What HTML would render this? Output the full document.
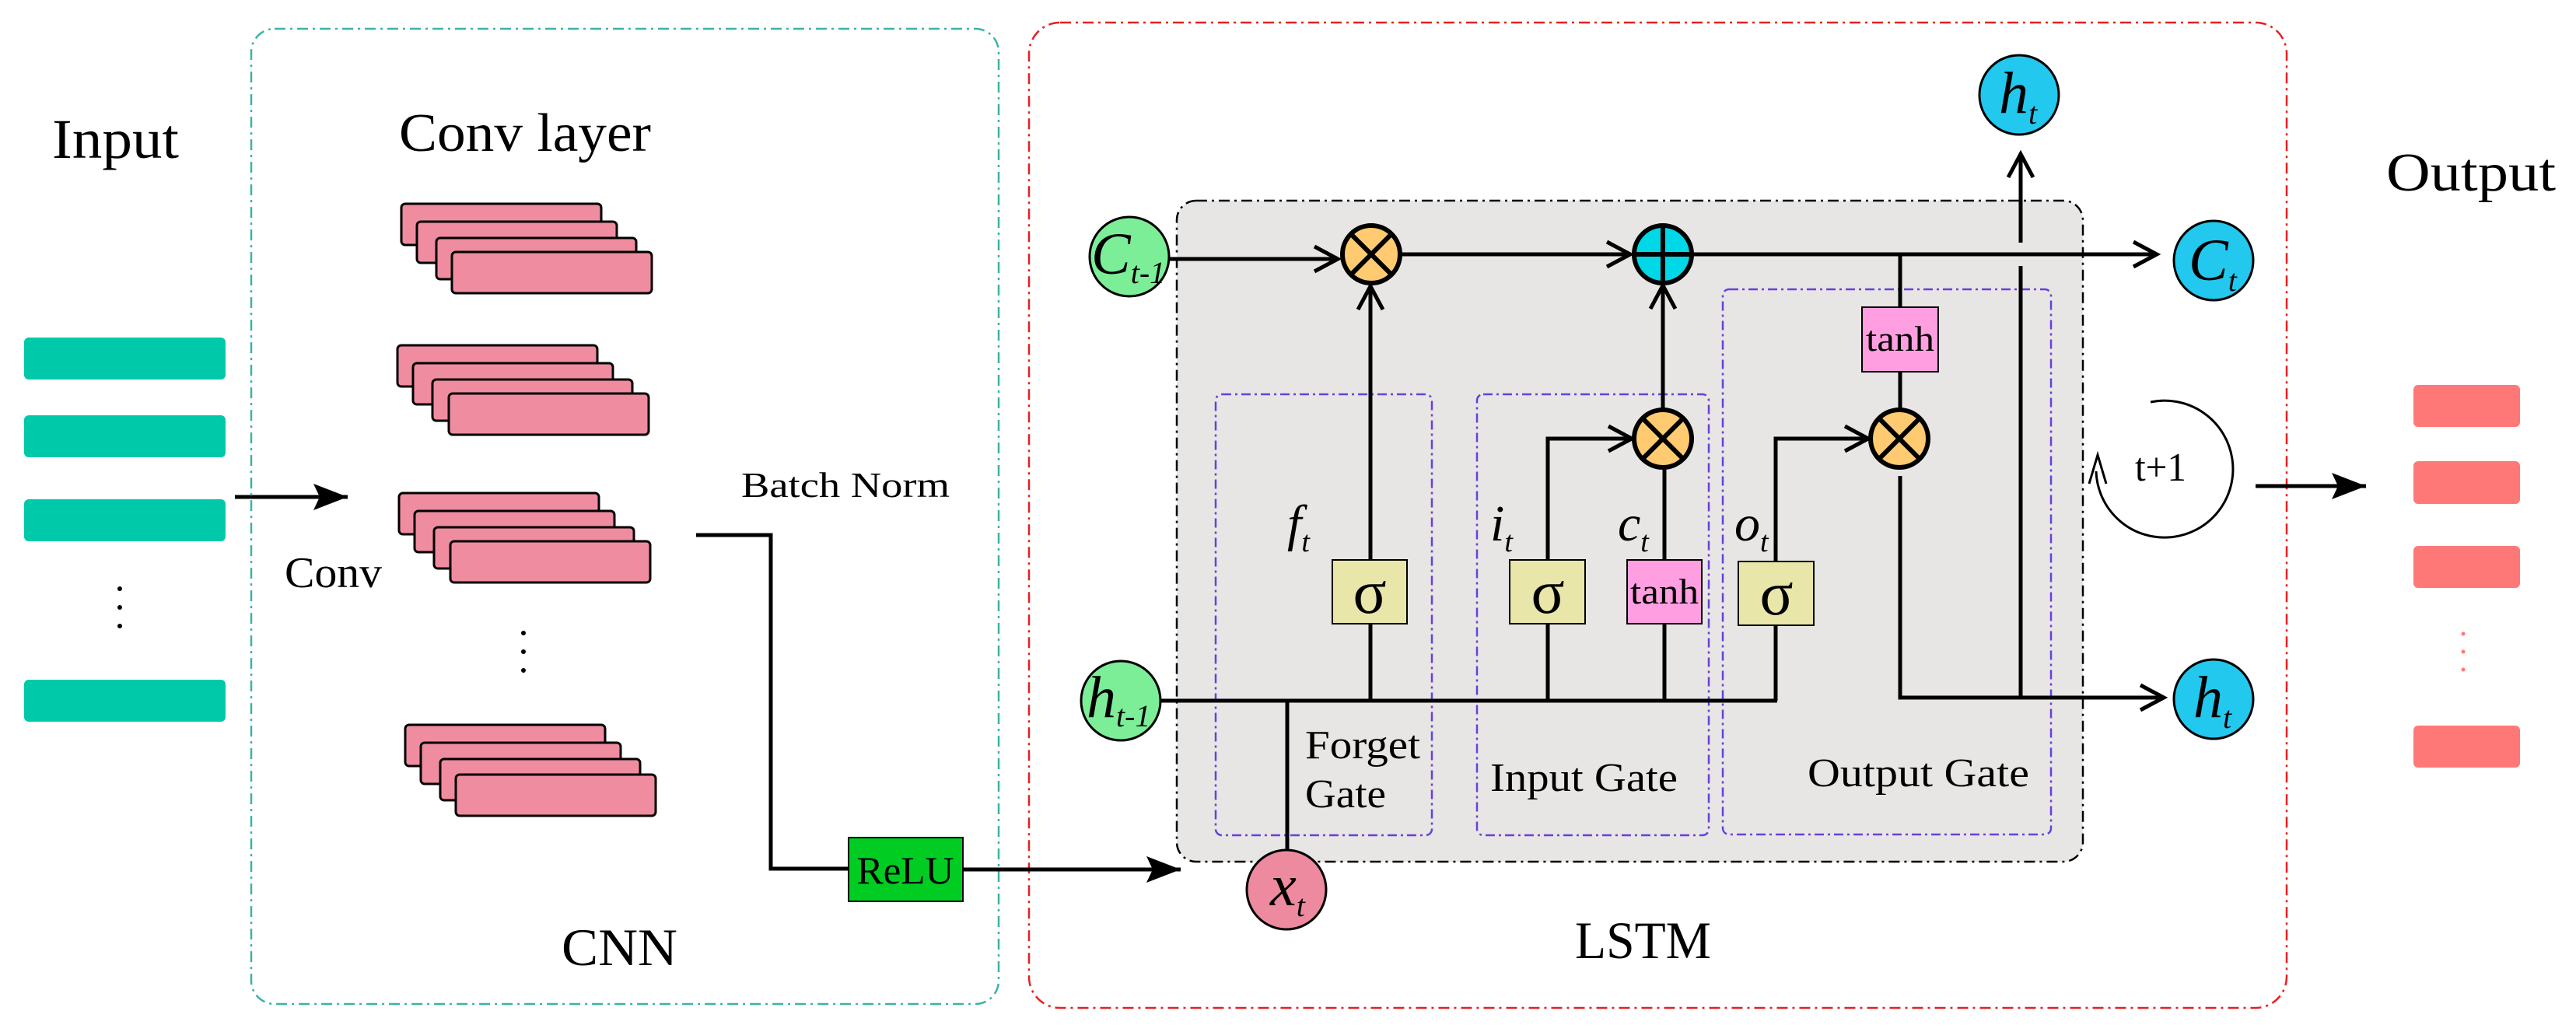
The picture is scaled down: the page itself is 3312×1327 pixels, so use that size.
<!DOCTYPE html>
<html><head><meta charset="utf-8"><style>html,body{margin:0;padding:0;background:#fff}svg{display:block}</style></head>
<body>
<svg xmlns="http://www.w3.org/2000/svg" width="3312" height="1327" viewBox="0 0 3312 1327" font-family="'Liberation Serif', serif">
<defs>
<marker id="ch" markerUnits="userSpaceOnUse" markerWidth="40" markerHeight="40" viewBox="0 0 40 40" refX="34" refY="20" orient="auto">
<path d="M4,4 L34,20 L4,36" fill="none" stroke="#000" stroke-width="5"/>
</marker>
<marker id="fa" markerUnits="userSpaceOnUse" markerWidth="50" markerHeight="40" viewBox="0 0 50 40" refX="46" refY="20" orient="auto">
<path d="M2,3 L46,20 L2,37 L10,20 z" fill="#000"/>
</marker>
</defs>
<rect width="3312" height="1327" fill="#fff"/>

<!-- Input -->
<text x="67" y="203" font-size="72" textLength="163" lengthAdjust="spacingAndGlyphs">Input</text>
<g fill="#00c9aa">
<rect x="31" y="434" width="259" height="54" rx="6"/>
<rect x="31" y="534" width="259" height="54" rx="6"/>
<rect x="31" y="642" width="259" height="54" rx="6"/>
<rect x="31" y="874" width="259" height="54" rx="6"/>
</g>
<g fill="#000"><circle cx="154" cy="757" r="3"/><circle cx="154" cy="781" r="3"/><circle cx="154" cy="805" r="3"/></g>
<line x1="302" y1="639" x2="447" y2="639" stroke="#000" stroke-width="5" marker-end="url(#fa)"/>

<!-- CNN box -->
<rect x="323" y="37" width="961" height="1254" rx="30" fill="none" stroke="#3ab3a8" stroke-width="2.5" stroke-dasharray="14,6,3,6"/>
<text x="513" y="194" font-size="70" textLength="324" lengthAdjust="spacingAndGlyphs">Conv layer</text>
<g fill="#f08ca0" stroke="#000" stroke-width="3">
<rect x="516" y="262" width="257" height="53" rx="5"/><rect x="536" y="285" width="257" height="53" rx="5"/><rect x="561" y="306" width="257" height="53" rx="5"/><rect x="581" y="324" width="257" height="53" rx="5"/>
<rect x="511" y="444" width="257" height="53" rx="5"/><rect x="531" y="467" width="257" height="53" rx="5"/><rect x="556" y="488" width="257" height="53" rx="5"/><rect x="577" y="506" width="257" height="53" rx="5"/>
<rect x="513" y="634" width="257" height="53" rx="5"/><rect x="533" y="657" width="257" height="53" rx="5"/><rect x="558" y="678" width="257" height="53" rx="5"/><rect x="579" y="696" width="257" height="53" rx="5"/>
<rect x="521" y="932" width="257" height="53" rx="5"/><rect x="541" y="955" width="257" height="53" rx="5"/><rect x="566" y="976" width="257" height="53" rx="5"/><rect x="586" y="996" width="257" height="53" rx="5"/>
</g>
<g fill="#000"><circle cx="673" cy="814" r="3"/><circle cx="673" cy="838" r="3"/><circle cx="673" cy="862" r="3"/></g>
<text x="366" y="755" font-size="56" textLength="125" lengthAdjust="spacingAndGlyphs">Conv</text>
<text x="953" y="639" font-size="46" textLength="268" lengthAdjust="spacingAndGlyphs">Batch Norm</text>
<polyline points="895,688 991,688 991,1117 1091,1117" fill="none" stroke="#000" stroke-width="5"/>
<rect x="1091" y="1077" width="147" height="82" fill="#00cc22" stroke="#000" stroke-width="2"/>
<text x="1164" y="1136" font-size="50" text-anchor="middle" textLength="125" lengthAdjust="spacingAndGlyphs">ReLU</text>
<text x="722" y="1241" font-size="68" textLength="149" lengthAdjust="spacingAndGlyphs">CNN</text>

<!-- LSTM box -->
<rect x="1323" y="29" width="1617" height="1267" rx="40" fill="none" stroke="#e62020" stroke-width="2.5" stroke-dasharray="14,6,3,6"/>
<line x1="1238" y1="1118" x2="1518" y2="1118" stroke="#000" stroke-width="5" marker-end="url(#fa)"/>
<rect x="1513" y="258" width="1165" height="850" rx="25" fill="#e7e6e4" stroke="#000" stroke-width="2.5" stroke-dasharray="14,6,3,6"/>
<g fill="none" stroke="#6a3fdc" stroke-width="2.5" stroke-dasharray="12,5,3,5">
<rect x="1563" y="507" width="278" height="567" rx="8"/>
<rect x="1899" y="507" width="298" height="567" rx="8"/>
<rect x="2215" y="372" width="422" height="701" rx="8"/>
</g>

<!-- lines -->
<g stroke="#000" stroke-width="5" fill="none">
<line x1="1503" y1="333" x2="1720" y2="333" marker-end="url(#ch)"/>
<line x1="1800" y1="327" x2="2096" y2="327" marker-end="url(#ch)"/>
<line x1="2176" y1="327" x2="2773" y2="327" marker-end="url(#ch)"/>
<line x1="1762" y1="720" x2="1762" y2="368" marker-end="url(#ch)"/>
<line x1="1492" y1="901" x2="2285" y2="901"/>
<line x1="1655" y1="901" x2="1655" y2="1095"/>
<line x1="1762" y1="802" x2="1762" y2="901"/>
<line x1="1990" y1="901" x2="1990" y2="802"/>
<polyline points="1990,720 1990,564 2098,564" marker-end="url(#ch)"/>
<line x1="2140" y1="901" x2="2140" y2="802"/>
<line x1="2140" y1="720" x2="2140" y2="602"/>
<line x1="2138" y1="527" x2="2138" y2="367" marker-end="url(#ch)"/>
<line x1="2283" y1="901" x2="2283" y2="804"/>
<polyline points="2283,722 2283,564 2402,564" marker-end="url(#ch)"/>
<line x1="2443" y1="327" x2="2443" y2="395"/>
<line x1="2443" y1="478" x2="2443" y2="526"/>
<polyline points="2443,612 2443,897 2782,897" marker-end="url(#ch)"/>
<line x1="2598" y1="897" x2="2598" y2="342"/>
<line x1="2598" y1="312" x2="2598" y2="198" marker-end="url(#ch)"/>
<line x1="2900" y1="625" x2="3042" y2="625" marker-end="url(#fa)"/>
</g>

<!-- op nodes -->
<g stroke="#000" stroke-width="6">
<circle cx="1763" cy="327" r="37" fill="#ffca70"/>
<line x1="1737" y1="301" x2="1789" y2="353"/><line x1="1789" y1="301" x2="1737" y2="353"/>
<circle cx="2138" cy="327" r="37" fill="#00d8e8"/>
<line x1="2138" y1="290" x2="2138" y2="364"/><line x1="2101" y1="327" x2="2175" y2="327"/>
<circle cx="2138" cy="564" r="37" fill="#ffca70"/>
<line x1="2112" y1="538" x2="2164" y2="590"/><line x1="2164" y1="538" x2="2112" y2="590"/>
<circle cx="2442" cy="564" r="37" fill="#ffca70"/>
<line x1="2416" y1="538" x2="2468" y2="590"/><line x1="2468" y1="538" x2="2416" y2="590"/>
</g>

<!-- gate boxes -->
<g stroke="#000" stroke-width="2">
<rect x="1713" y="720" width="96" height="82" fill="#e8e6a8"/>
<rect x="1941" y="720" width="97" height="82" fill="#e8e6a8"/>
<rect x="2092" y="720" width="96" height="82" fill="#ff9ee0"/>
<rect x="2235" y="722" width="97" height="82" fill="#e8e6a8"/>
<rect x="2394" y="395" width="98" height="83" fill="#ff9ee0"/>
</g>
<g font-size="80" text-anchor="middle">
<text x="1761" y="788">σ</text><text x="1990" y="788">σ</text><text x="2284" y="790">σ</text>
</g>
<g font-size="46" text-anchor="middle">
<text x="2140" y="776" textLength="88" lengthAdjust="spacingAndGlyphs">tanh</text><text x="2443" y="451" textLength="88" lengthAdjust="spacingAndGlyphs">tanh</text>
</g>
<g font-size="66" font-style="italic">
<text x="1655" y="695">f<tspan font-size="38" dy="14">t</tspan></text>
<text x="1916" y="695">i<tspan font-size="38" dy="14">t</tspan></text>
<text x="2080" y="695">c<tspan font-size="38" dy="14">t</tspan></text>
<text x="2230" y="695">o<tspan font-size="38" dy="14">t</tspan></text>
</g>
<g font-size="52">
<text x="1678" y="975" textLength="148" lengthAdjust="spacingAndGlyphs">Forget</text><text x="1678" y="1038" textLength="104" lengthAdjust="spacingAndGlyphs">Gate</text>
<text x="1916" y="1017" textLength="241" lengthAdjust="spacingAndGlyphs">Input Gate</text>
<text x="2324" y="1011" textLength="285" lengthAdjust="spacingAndGlyphs">Output Gate</text>
</g>

<!-- t+1 loop -->
<path d="M2765,517 A88,88 0 1,1 2695,606" fill="none" stroke="#000" stroke-width="3"/>
<path d="M2686,622 L2697,585 L2708,622" fill="none" stroke="#000" stroke-width="3"/>
<text x="2745" y="618" font-size="52" textLength="66" lengthAdjust="spacingAndGlyphs">t+1</text>

<!-- circle nodes -->
<g stroke="#000" stroke-width="3">
<circle cx="1452" cy="330" r="51" fill="#7cee98"/>
<circle cx="1441" cy="901" r="51" fill="#7cee98"/>
<circle cx="1654" cy="1144" r="51" fill="#ee8aa0"/>
<circle cx="2596" cy="122" r="51" fill="#22c8ee"/>
<circle cx="2846" cy="335" r="51" fill="#22c8ee"/>
<circle cx="2846" cy="899" r="51" fill="#22c8ee"/>
</g>
<g font-style="italic" font-size="76">
<text x="1403" y="352">C<tspan font-size="40" dy="12">t-1</tspan></text>
<text x="1397" y="922">h<tspan font-size="40" dy="12">t-1</tspan></text>
<text x="1633" y="1164">x<tspan font-size="40" dy="14">t</tspan></text>
<text x="2570" y="145">h<tspan font-size="40" dy="14">t</tspan></text>
<text x="2814" y="360">C<tspan font-size="40" dy="14">t</tspan></text>
<text x="2820" y="922">h<tspan font-size="40" dy="14">t</tspan></text>
</g>
<text x="2025" y="1232" font-size="68" textLength="175" lengthAdjust="spacingAndGlyphs">LSTM</text>

<!-- Output -->
<text x="3068" y="245" font-size="70" textLength="218" lengthAdjust="spacingAndGlyphs">Output</text>
<g fill="#ff7878">
<rect x="3103" y="495" width="137" height="54" rx="6"/>
<rect x="3103" y="593" width="137" height="55" rx="6"/>
<rect x="3103" y="702" width="137" height="54" rx="6"/>
<rect x="3103" y="933" width="137" height="54" rx="6"/>
</g>
<g fill="#ff7878"><circle cx="3167" cy="815" r="2.5"/><circle cx="3167" cy="838" r="2.5"/><circle cx="3167" cy="861" r="2.5"/></g>
</svg>
</body></html>
